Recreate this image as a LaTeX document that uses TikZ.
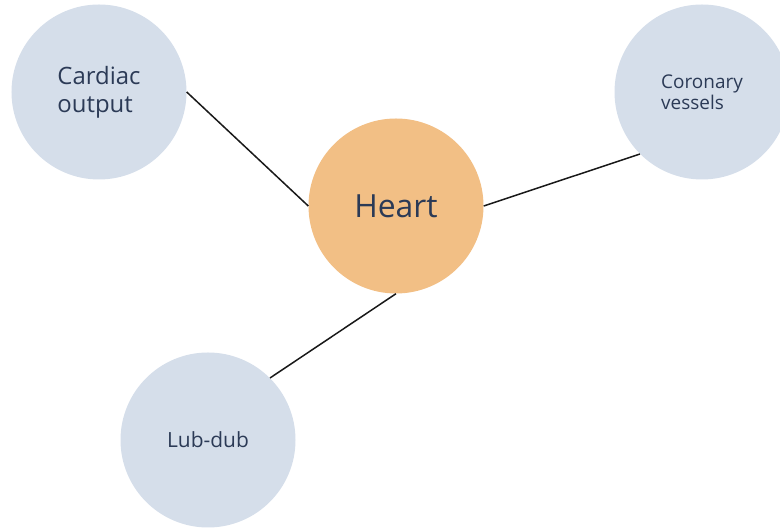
\documentclass[tikz,border=0pt]{standalone}
\usepackage{fontspec}
\setmainfont{Open Sans}
\usepackage{tikz}
\usetikzlibrary{positioning}
\definecolor{cTxt} {HTML}{2B3A56}
\definecolor{cLeaf}{HTML}{D5DEEA}
\definecolor{cCore}{HTML}{F2BF85}
\tikzset{
  bub/.style  ={circle,draw=none,fill=cLeaf,text=cTxt,align=left,
                inner sep=0pt,minimum size=175bp},
  core/.style ={bub,fill=cCore,font=\fontsize{32}{38}\selectfont},
  lnk/.style  ={draw=black!90,line width=1.5bp},
}

\begin{document}
\begin{tikzpicture}[x=1bp, y=1bp]
\useasboundingbox (0,0) rectangle (780,528);

\node[core] (heart) at (396,322) {Heart};

% --- leaves round the centre ----------------------------------------------
\node[bub,font=\fontsize{24}{28}\selectfont] (co) at (99,436)
  {Cardiac\\output};
\node[bub,font=\fontsize{19}{21}\selectfont] (cv) at (702,436)
  {Coronary\\vessels};
\node[bub,font=\fontsize{21}{25}\selectfont] (ld) at (208,88)
  {Lub-dub};

\draw[lnk] (co.east)     -- (heart.west);
\draw[lnk] (heart.east)  -- (cv.south west);
\draw[lnk] (heart.south) -- (ld.north east);

\end{tikzpicture}
\end{document}
